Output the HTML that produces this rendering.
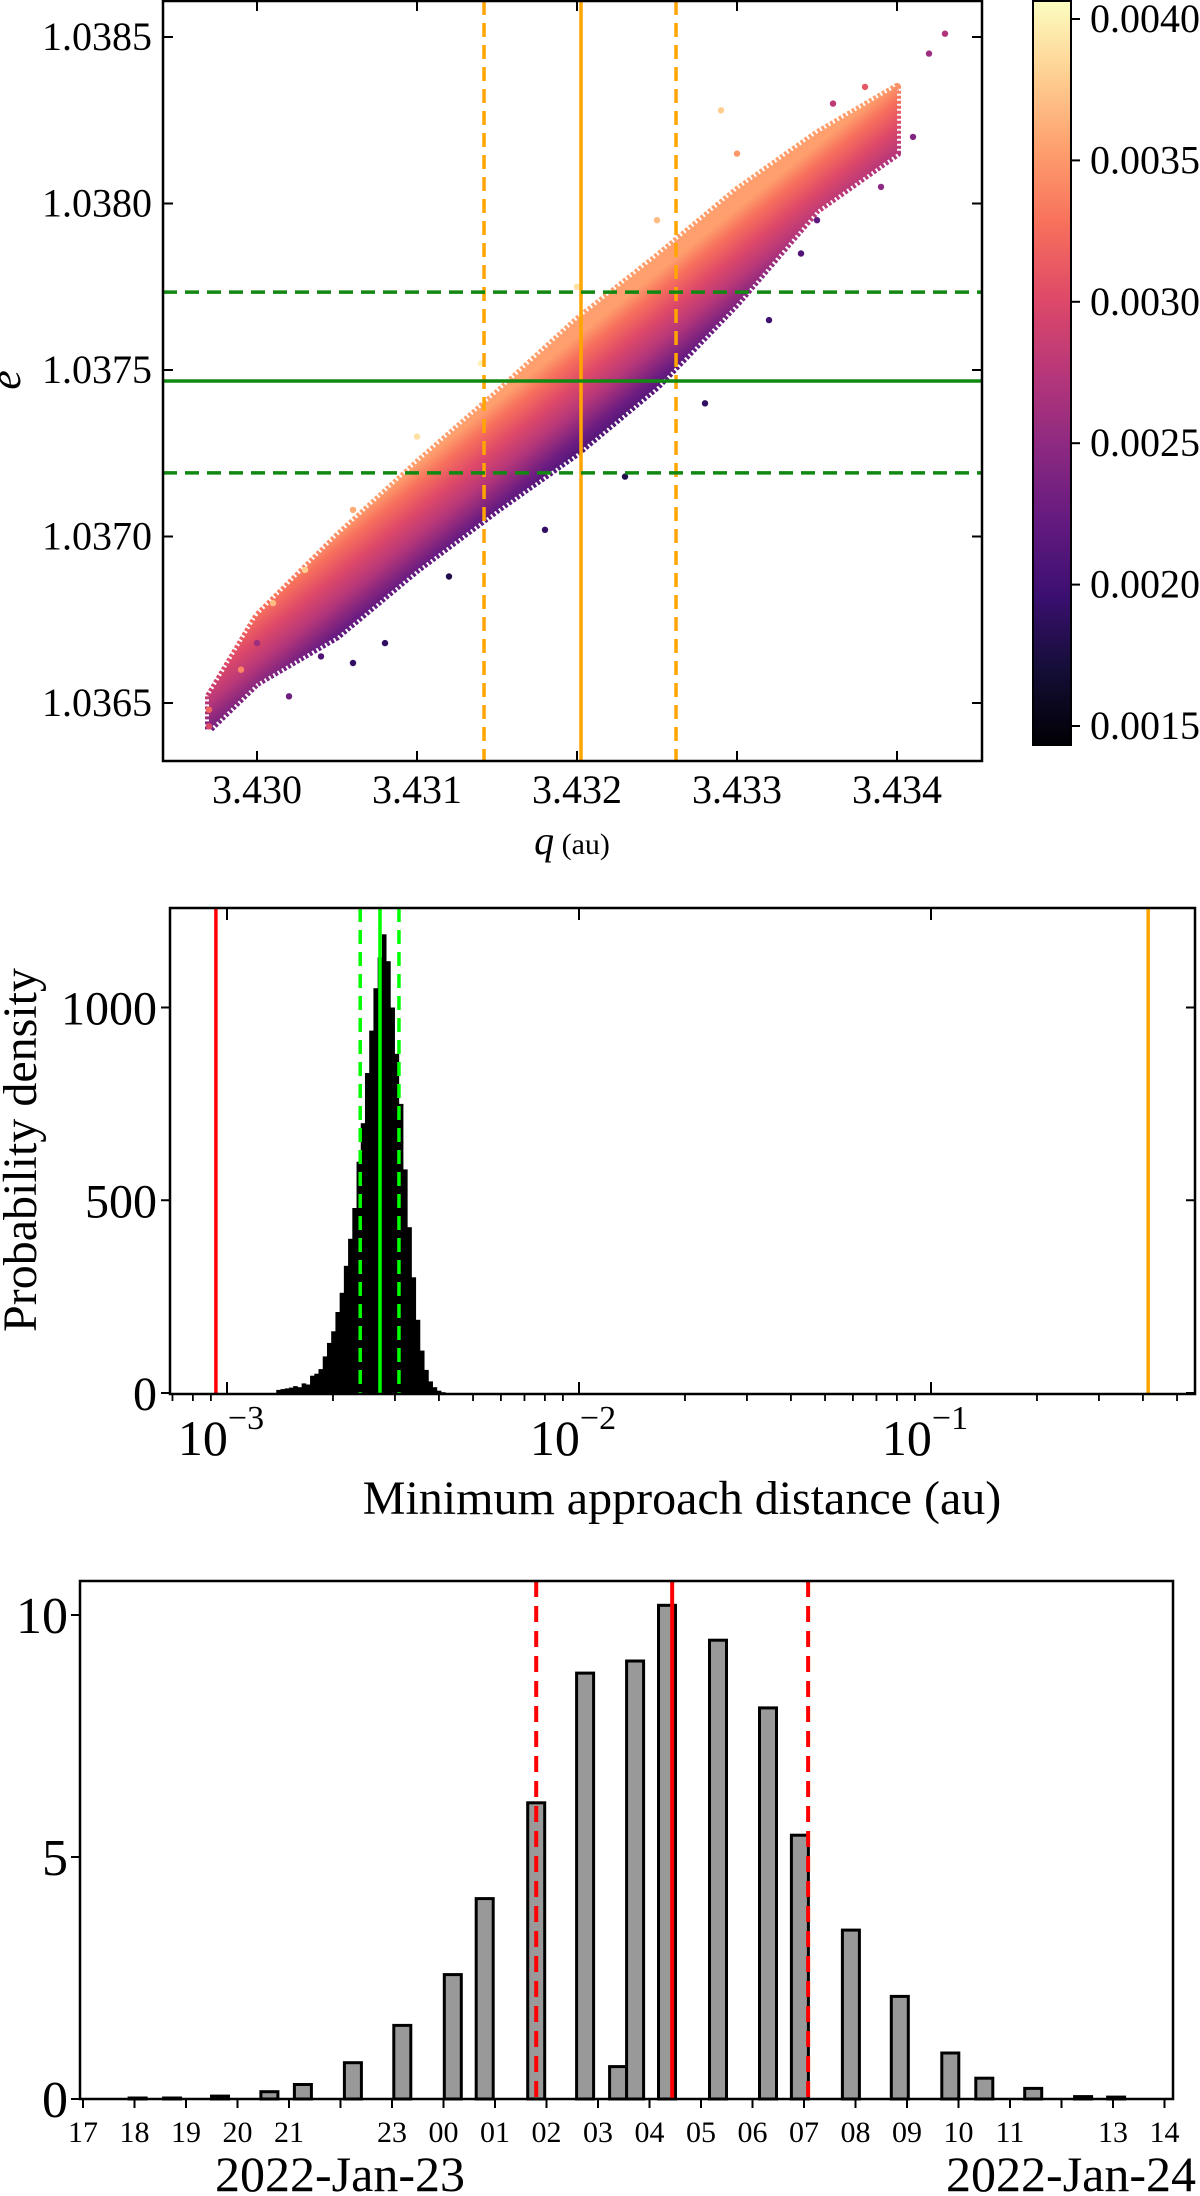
<!DOCTYPE html>
<html><head><meta charset="utf-8">
<style>
html,body{margin:0;padding:0;background:#fff;}
svg{display:block;font-family:"Liberation Serif",serif;}
</style></head>
<body>
<svg id="fig" width="1200" height="2196" viewBox="0 0 1200 2196" xmlns="http://www.w3.org/2000/svg">
<defs>
<linearGradient id="magma" x1="0" y1="1" x2="0" y2="0">
<stop offset="0" stop-color="#000004"/><stop offset="0.1" stop-color="#140e36"/><stop offset="0.2" stop-color="#3b0f70"/><stop offset="0.3" stop-color="#641a80"/><stop offset="0.4" stop-color="#8c2981"/><stop offset="0.5" stop-color="#b73779"/><stop offset="0.6" stop-color="#de4968"/><stop offset="0.7" stop-color="#f7705c"/><stop offset="0.8" stop-color="#fe9f6d"/><stop offset="0.9" stop-color="#fecf92"/><stop offset="1" stop-color="#fcfdbf"/>
</linearGradient>
<linearGradient id="bandGrad" gradientUnits="userSpaceOnUse" x1="612" y1="440" x2="548" y2="360">
<stop offset="0" stop-color="#3b0f70"/><stop offset="0.2" stop-color="#6a1c81"/><stop offset="0.45" stop-color="#b73779"/><stop offset="0.65" stop-color="#de4968"/><stop offset="0.85" stop-color="#f7705c"/><stop offset="1" stop-color="#fe9f6d"/>
</linearGradient>
</defs>
<g id="topPanel"></g>
<g id="cbarPanel"></g>
<g id="midPanel"></g>
<g id="botPanel"></g>
</svg>
<script>
// ---------- Top chart data ----------
const bandQ     = [3.4297, 3.4300, 3.4305, 3.4310, 3.4315, 3.4320, 3.4325, 3.4330, 3.4335, 3.4340];
const bandUpper = [1.03652,1.03676,1.03700,1.03722,1.03743,1.03765,1.03784,1.03804,1.03821,1.03835];
const bandLower = [1.03642,1.03656,1.03670,1.03690,1.03708,1.03725,1.03745,1.03770,1.03798,1.03815];
const ptQ = [3.4297,3.4297,3.4299,3.4300,3.4302,3.4301,3.4303,3.4304,3.4306,3.4308,3.4310,3.4312,3.4314,3.4318,3.4320,3.4323,3.4325,3.4328,3.4330,3.4332,3.4334,3.4336,3.4338,3.4339,3.4341,3.4342,3.4343,3.4329,3.4335,3.4306];
const ptE = [1.03648,1.03643,1.03660,1.03668,1.03652,1.03680,1.03690,1.03664,1.03708,1.03668,1.03730,1.03688,1.03752,1.03702,1.03775,1.03718,1.03795,1.03740,1.03815,1.03765,1.03785,1.03830,1.03835,1.03805,1.03820,1.03845,1.03851,1.03828,1.03795,1.03662];
const ptD = [0.0032,0.0030,0.0034,0.0026,0.0023,0.0037,0.0038,0.0021,0.0036,0.0019,0.0039,0.0018,0.0040,0.0019,0.0039,0.0018,0.0037,0.0019,0.0035,0.0020,0.0021,0.0028,0.0031,0.0025,0.0024,0.0026,0.0027,0.0038,0.0022,0.0019];
const qTicks = [3.430,3.431,3.432,3.433,3.434];
const qTickLabels = ["3.430","3.431","3.432","3.433","3.434"];
const eTicks = [1.0365,1.0370,1.0375,1.0380,1.0385];
const eTickLabels = ["1.0365","1.0370","1.0375","1.0380","1.0385"];
const qLines = [3.431419, 3.432025, 3.432619];
const eLines = [1.037734, 1.037467, 1.037191];
const cbTicks = [0.0015,0.0020,0.0025,0.0030,0.0035,0.0040];
const cbTickLabels = ["0.0015","0.0020","0.0025","0.0030","0.0035","0.0040"];
// ---------- Middle chart data ----------
const histLog = [-2.854,-2.842,-2.830,-2.818,-2.806,-2.794,-2.782,-2.770,-2.758,-2.746,-2.734,-2.722,-2.710,-2.698,-2.686,-2.674,-2.662,-2.650,-2.638,-2.626,-2.614,-2.602,-2.590,-2.578,-2.566,-2.554,-2.542,-2.530,-2.518,-2.506,-2.494,-2.482,-2.470,-2.458,-2.446,-2.434,-2.422,-2.410,-2.398,-2.386];
const histVal = [8,10,12,14,18,15,25,22,45,50,62,95,130,160,210,260,330,400,480,600,700,830,940,1050,1130,1190,1120,1000,880,750,580,430,300,190,110,60,30,15,6,2];
const midYTicks = [0,500,1000];
const midRed = 0.00093, midOrange = 0.414;
const midGreen = [0.00239, 0.00272, 0.00308];
// ---------- Bottom chart data ----------
const barHours = [1.06,1.73,2.66,3.62,4.27,5.24,6.2,7.18,7.8,8.8,9.75,10.39,10.72,11.34,12.33,13.3,13.92,14.91,15.86,16.84,17.5,18.45,19.42,20.06];
const barVals  = [0.02,0.02,0.06,0.15,0.30,0.75,1.52,2.57,4.14,6.12,8.80,0.67,9.05,10.2,9.48,8.08,5.45,3.49,2.12,0.95,0.43,0.22,0.05,0.04];
const hourTickLabels = ["17","18","19","20","21","","23","00","01","02","03","04","05","06","07","08","09","10","11","","13","14"];
const botYTicks = [0,5,10];
const redHours = [8.8, 11.44, 14.08];

const NS = "http://www.w3.org/2000/svg";
function mk(parent, tag, attrs, text){
  const el = document.createElementNS(NS, tag);
  for (const k in attrs) el.setAttribute(k, attrs[k]);
  if (text !== undefined) el.textContent = text;
  parent.appendChild(el);
  return el;
}
function magma(t){
  const s=["#000004","#140e36","#3b0f70","#641a80","#8c2981","#b73779","#de4968","#f7705c","#fe9f6d","#fecf92","#fcfdbf"];
  t=Math.max(0,Math.min(1,t)); const i=Math.min(9,Math.floor(t*10)); const f=t*10-i;
  const a=s[i],b=s[i+1]; const c=[1,3,5].map(j=>Math.round(parseInt(a.substr(j,2),16)*(1-f)+parseInt(b.substr(j,2),16)*f));
  return "rgb("+c.join(",")+")";
}

// ===== TOP =====
const topG = document.getElementById('topPanel');
const TL=163, TR=982, TT=1, TB=761;
const qx = q => 257 + (q-3.430)*160000;
const ey = e => 37 + (1.0385-e)*333000;
{
  let d = "M";
  for (let i=0;i<bandQ.length;i++) d += (i?" L":"") + qx(bandQ[i]).toFixed(1)+" "+ey(bandUpper[i]).toFixed(1);
  for (let i=bandQ.length-1;i>=0;i--) d += " L"+qx(bandQ[i]).toFixed(1)+" "+ey(bandLower[i]).toFixed(1);
  d += " Z";
  const band = mk(topG,'path',{d:d,fill:'url(#bandGrad)',stroke:'url(#bandGrad)','stroke-width':8,'stroke-linejoin':'round','stroke-dasharray':'3 2'});
  
  
  const cmin=0.001434, cmax=0.004067;
  for (let i=0;i<ptQ.length;i++){
    const c = mk(topG,'circle',{cx:qx(ptQ[i]).toFixed(1),cy:ey(ptE[i]).toFixed(1),r:3.2,fill:magma((ptD[i]-cmin)/(cmax-cmin))});
    
    
  }
  qLines.forEach((q,i)=>{
    const l = mk(topG,'line',{x1:qx(q),x2:qx(q),y1:TT,y2:TB,stroke:'#ffa500','stroke-width':3.5,'stroke-dasharray':i===1?'none':'14 8'});
    
    
  });
  eLines.forEach((e,i)=>{
    const l = mk(topG,'line',{x1:TL,x2:TR,y1:ey(e),y2:ey(e),stroke:'#118811','stroke-width':3.5,'stroke-dasharray':i===1?'none':'14 8'});
    
    
  });
  const fr = mk(topG,'rect',{x:TL,y:TT,width:TR-TL,height:TB-TT,fill:'none',stroke:'#000','stroke-width':2.5});
  
  
  qTicks.forEach((q,i)=>{
    const x=qx(q);
    mk(topG,'line',{x1:x,x2:x,y1:TB,y2:TB-10,stroke:'#000','stroke-width':2});
    mk(topG,'line',{x1:x,x2:x,y1:TT,y2:TT+10,stroke:'#000','stroke-width':2});
    const t = mk(topG,'text',{x:x,y:803,'font-size':40,'text-anchor':'middle'},qTickLabels[i]);
    
    
  });
  eTicks.forEach((e,i)=>{
    const y=ey(e);
    mk(topG,'line',{x1:TL,x2:TL+10,y1:y,y2:y,stroke:'#000','stroke-width':2});
    mk(topG,'line',{x1:TR,x2:TR-10,y1:y,y2:y,stroke:'#000','stroke-width':2});
    const t = mk(topG,'text',{x:152,y:y+13,'font-size':40,'text-anchor':'end'},eTickLabels[i]);
    
    
  });
  const xl = mk(topG,'text',{x:572,y:854,'font-size':40,'text-anchor':'middle'});
  
  
  mk(xl,'tspan',{'font-style':'italic'},'q');
  mk(xl,'tspan',{'font-size':30},' (au)');
  const yl = mk(topG,'text',{x:12,y:388,'font-size':44,'font-style':'italic','text-anchor':'middle',transform:'rotate(-90 12 380)'},'e');
  
  
}
// ===== COLORBAR =====
const cbG = document.getElementById('cbarPanel');
{
  const CL=1033, CR=1071, CT=1, CB=745;
  const cy = v => 19 + (0.0040 - v)/0.0005*141.4;
  const r = mk(cbG,'rect',{x:CL,y:CT,width:CR-CL,height:CB-CT,fill:'url(#magma)',stroke:'#000','stroke-width':2});
  
  
  cbTicks.forEach((v,i)=>{
    const y=cy(v);
    mk(cbG,'line',{x1:CR,x2:CR+9,y1:y,y2:y,stroke:'#000','stroke-width':2});
    const t = mk(cbG,'text',{x:1090,y:y+13,'font-size':40},cbTickLabels[i]);
    
    
  });
}
// ===== MIDDLE =====
const midG = document.getElementById('midPanel');
{
  const ML=170, MR=1195, MT=908, MB=1394;
  const lx = v => 227 + (Math.log10(v)+3)*352;
  const ly = v => 1393 - v*0.3855;
  const bw = 0.012*352;
  histLog.forEach((lg,i)=>{
    const x = 227 + (lg+3)*352 - bw/2;
    const y = ly(histVal[i]);
    const b = mk(midG,'rect',{x:x.toFixed(2),y:y.toFixed(1),width:(bw+0.4).toFixed(2),height:(1393-y).toFixed(1),fill:'#000'});
    
    
  });
  const red = mk(midG,'line',{x1:lx(midRed),x2:lx(midRed),y1:MT,y2:MB,stroke:'#ff0000','stroke-width':3.5});
  
  
  const org = mk(midG,'line',{x1:lx(midOrange),x2:lx(midOrange),y1:MT,y2:MB,stroke:'#ffa500','stroke-width':3.5});
  
  
  midGreen.forEach((v,i)=>{
    const g = mk(midG,'line',{x1:lx(v),x2:lx(v),y1:MT,y2:MB,stroke:'#00ff00','stroke-width':3.5,'stroke-dasharray':i===1?'none':'14 8'});
    
    
  });
  const fr = mk(midG,'rect',{x:ML,y:MT,width:MR-ML,height:MB-MT,fill:'none',stroke:'#000','stroke-width':2.5});
  
  
  for (let dec=-4; dec<=0; dec++){
    for (let k=1;k<=9;k++){
      const x = 227 + (dec+Math.log10(k)+3)*352;
      if (x<ML||x>MR) continue;
      if (k===1){
        mk(midG,'line',{x1:x,x2:x,y1:MB,y2:MB-12,stroke:'#000','stroke-width':2});
        mk(midG,'line',{x1:x,x2:x,y1:MT,y2:MT+12,stroke:'#000','stroke-width':2});
        const t = mk(midG,'text',{x:x-6,y:1455,'font-size':50,'text-anchor':'middle'});
        
        
        t.appendChild(document.createTextNode('10'));
        mk(t,'tspan',{'font-size':34,dy:-26},'\u2212'+(-dec));
      } else {
        mk(midG,'line',{x1:x,x2:x,y1:MB,y2:MB+7,stroke:'#000','stroke-width':1.8});
      }
    }
  }
  midYTicks.forEach(v=>{
    const y=ly(v);
    mk(midG,'line',{x1:ML,x2:ML-9,y1:y,y2:y,stroke:'#000','stroke-width':2});
    mk(midG,'line',{x1:MR,x2:MR-9,y1:y,y2:y,stroke:'#000','stroke-width':2});
    const t = mk(midG,'text',{x:157,y:y+17,'font-size':48,'text-anchor':'end'},String(v));
    
    
  });
  const xl = mk(midG,'text',{x:682,y:1514,'font-size':48,'text-anchor':'middle'},'Minimum approach distance (au)');
  
  
  const yl = mk(midG,'text',{x:36,y:1150,'font-size':48,'text-anchor':'middle',transform:'rotate(-90 36 1150)'},'Probability density');
  
  
}
// ===== BOTTOM =====
const botG = document.getElementById('botPanel');
{
  const BL=80, BR=1173, BT=1581, BB=2099;
  const hx = h => 83 + h*51.5;
  const vy = v => 2099 - v*48.4;
  const w = 17;
  barHours.forEach((h,i)=>{
    const x=hx(h)-w/2, y=vy(barVals[i]);
    const b = mk(botG,'rect',{x:x.toFixed(1),y:y.toFixed(1),width:w,height:(2099-y).toFixed(1),fill:'#999999',stroke:'#000','stroke-width':3});
    
    
  });
  redHours.forEach((h,i)=>{
    const l = mk(botG,'line',{x1:hx(h),x2:hx(h),y1:BT,y2:BB,stroke:'#ff0000','stroke-width':4,'stroke-dasharray':i===1?'none':'16 9'});
    
    
  });
  const fr = mk(botG,'rect',{x:BL,y:BT,width:BR-BL,height:BB-BT,fill:'none',stroke:'#000','stroke-width':2.5});
  
  
  hourTickLabels.forEach((lab,i)=>{
    const x=hx(i);
    mk(botG,'line',{x1:x,x2:x,y1:BB,y2:BB+9,stroke:'#000','stroke-width':2});
    if (lab){
      const t = mk(botG,'text',{x:x,y:2142,'font-size':30,'text-anchor':'middle'},lab);
      
      
    }
  });
  botYTicks.forEach(v=>{
    const y=vy(v);
    mk(botG,'line',{x1:BL,x2:BL-9,y1:y,y2:y,stroke:'#000','stroke-width':2});
    const t = mk(botG,'text',{x:68,y:y+18,'font-size':52,'text-anchor':'end'},String(v));
    
    
  });
  const d1 = mk(botG,'text',{x:340,y:2191,'font-size':50,'text-anchor':'middle'},'2022-Jan-23');
  
  
  const d2 = mk(botG,'text',{x:1196,y:2191,'font-size':50,'text-anchor':'end'},'2022-Jan-24');
  
  
}
</script>
</body></html>
